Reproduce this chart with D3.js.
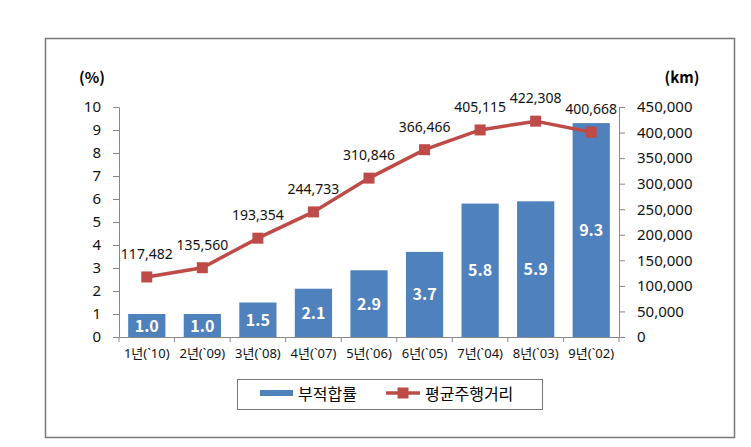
<!DOCTYPE html>
<html><head><meta charset="utf-8">
<script src="https://cdn.jsdelivr.net/npm/d3@7"></script>
<style>
body{margin:0;background:#fff;}
svg{display:block;font-family:"Noto Sans CJK KR","Noto Sans",sans-serif;}
</style></head>
<body>
<svg id="c" width="751" height="447"></svg>
<script>
const categories = ["1년(`10)","2년(`09)","3년(`08)","4년(`07)","5년(`06)","6년(`05)","7년(`04)","8년(`03)","9년(`02)"];
const failRate = [1.0,1.0,1.5,2.1,2.9,3.7,5.8,5.9,9.3];
const avgDistance = [117482,135560,193354,244733,310846,366466,405115,422308,400668];
const leftTicks = [0,1,2,3,4,5,6,7,8,9,10];
const rightTicks = [0,50000,100000,150000,200000,250000,300000,350000,400000,450000];
const seriesNames = ["부적합률","평균주행거리"];

const blue = "#4F81BD", red = "#BE4B48";
const svg = d3.select("#c");

svg.append("rect").attr("x",45.5).attr("y",38.5).attr("width",689).attr("height",399)
  .attr("fill","#fff").attr("stroke","#777").attr("stroke-width",1.5);

const L = 119, R = 619, T = 107, B = 337;
const x = d3.scaleBand().domain(categories).range([L,R]).paddingInner(0.33).paddingOuter(0.165);
const xo = d3.scaleBand().domain(categories).range([L,R]);
const yL = d3.scaleLinear().domain([0,10]).range([B,T]);
const yR = d3.scaleLinear().domain([0,450000]).range([B,T]);

// bars
svg.append("g").selectAll("rect").data(failRate).join("rect")
  .attr("x",(d,i)=>x(categories[i])).attr("width",x.bandwidth())
  .attr("y",d=>yL(d)).attr("height",d=>B-yL(d)).attr("fill",blue);

svg.append("g").selectAll("text").data(failRate).join("text")
  .attr("x",(d,i)=>x(categories[i])+x.bandwidth()/2)
  .attr("y",d=>(yL(d)+B)/2+6)
  .attr("text-anchor","middle").attr("fill","#fff").attr("font-weight","bold")
  .attr("font-size",16).text(d=>d.toFixed(1));

// axes
const axStyle = g=>{g.select(".domain").attr("stroke","#888");g.selectAll(".tick line").attr("stroke","#888");
  g.selectAll("text").attr("fill","#111").attr("font-family","'Noto Sans','DejaVu Sans',sans-serif");};
svg.append("g").attr("transform",`translate(${L},0)`)
  .call(d3.axisLeft(yL).tickValues(leftTicks).tickSize(6).tickSizeOuter(0).tickPadding(12).tickFormat(d3.format("d")))
  .call(axStyle).selectAll("text").attr("font-size",15);
svg.append("g").attr("transform",`translate(${R},0)`)
  .call(d3.axisRight(yR).tickValues(rightTicks).tickSize(6).tickSizeOuter(0).tickPadding(12).tickFormat(d3.format(",")))
  .call(axStyle).selectAll("text").attr("font-size",15);
const xg = svg.append("g").attr("transform",`translate(0,${B})`)
  .call(d3.axisBottom(xo).tickSize(0).tickPadding(12)).call(axStyle);
xg.selectAll("text").attr("font-size",13).attr("font-family","'Noto Sans','Noto Sans CJK KR',sans-serif");
xg.selectAll(".sep").data(d3.range(categories.length+1)).join("line")
  .attr("x1",i=>L+i*xo.step()).attr("x2",i=>L+i*xo.step()).attr("y1",0).attr("y2",5).attr("stroke","#888");

svg.append("text").attr("x",92).attr("y",83).attr("text-anchor","middle").attr("font-size",15).attr("font-weight","bold").text("(%)");
svg.append("text").attr("x",682).attr("y",83).attr("text-anchor","middle").attr("font-size",15).attr("font-weight","bold").text("(km)");

// line
const cx = i=>x(categories[i])+x.bandwidth()/2;
svg.append("path").datum(avgDistance)
  .attr("d",d3.line().x((d,i)=>cx(i)).y(d=>yR(d)))
  .attr("fill","none").attr("stroke",red).attr("stroke-width",3.5);
svg.append("g").selectAll("rect").data(avgDistance).join("rect")
  .attr("x",(d,i)=>cx(i)-5.5).attr("y",d=>yR(d)-5.5).attr("width",11).attr("height",11).attr("fill",red);
svg.append("g").selectAll("text").data(avgDistance).join("text")
  .attr("x",(d,i)=>cx(i)).attr("y",d=>yR(d)-18)
  .attr("text-anchor","middle").attr("font-size",14).attr("fill","#111")
  .attr("font-family","'Noto Sans','DejaVu Sans',sans-serif")
  .text(d=>d3.format(",")(d));

// legend
const lg = svg.append("g");
lg.append("rect").attr("x",237.5).attr("y",379.5).attr("width",305).attr("height",30)
  .attr("fill","#fff").attr("stroke","#777");
lg.append("rect").attr("x",260).attr("y",390).attr("width",33).attr("height",6).attr("fill",blue);
lg.append("text").attr("x",298).attr("y",400).attr("font-size",16).text(seriesNames[0]);
lg.append("line").attr("x1",386).attr("x2",420).attr("y1",393).attr("y2",393).attr("stroke",red).attr("stroke-width",3.5);
lg.append("rect").attr("x",397.5).attr("y",387.5).attr("width",11).attr("height",11).attr("fill",red);
lg.append("text").attr("x",425).attr("y",400).attr("font-size",16).text(seriesNames[1]);
</script>
</body></html>
